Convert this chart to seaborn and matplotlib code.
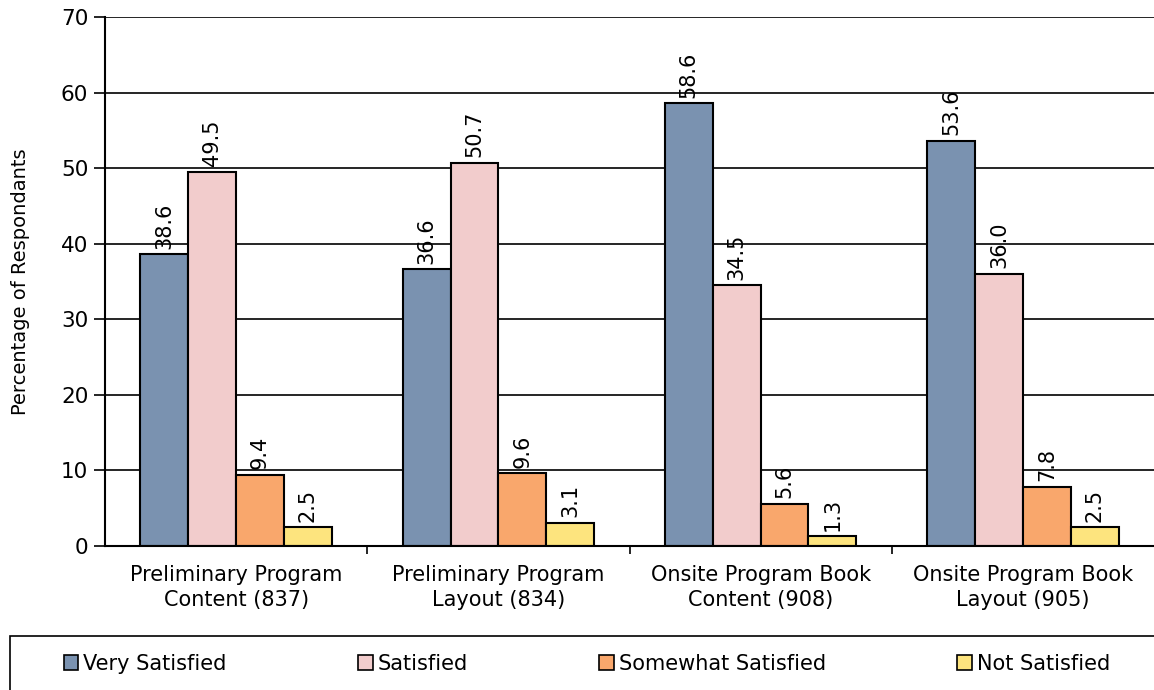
import matplotlib
matplotlib.use("Agg")
import matplotlib.pyplot as plt
import seaborn as sns
import pandas as pd
import numpy as np
from matplotlib.patches import Patch, Rectangle

categories = ["Preliminary Program\nContent (837)", "Preliminary Program\nLayout (834)",
              "Onsite Program Book\nContent (908)", "Onsite Program Book\nLayout (905)"]
series = ["Very Satisfied", "Satisfied", "Somewhat Satisfied", "Not Satisfied"]
very_satisfied = [38.6, 36.6, 58.6, 53.6]
satisfied = [49.5, 50.7, 34.5, 36.0]
somewhat_satisfied = [9.4, 9.6, 5.6, 7.8]
not_satisfied = [2.5, 3.1, 1.3, 2.5]
colors = ["#7a92b0", "#f2cccc", "#f9a76c", "#fde47e"]

rows = []
for s, vals in zip(series, [very_satisfied, satisfied, somewhat_satisfied, not_satisfied]):
    for c, v in zip(categories, vals):
        rows.append({"Category": c, "Rating": s, "Value": v})
df = pd.DataFrame(rows)

sns.set_theme(style="white")
plt.rcParams['font.family'] = ['DejaVu Sans']
plt.rcParams.update({"text.color": "black", "axes.labelcolor": "black",
                     "xtick.color": "black", "ytick.color": "black"})

fig = plt.figure(figsize=(11.54, 6.9), dpi=100)
ax = fig.add_axes([0.091, 0.2087, 0.909, 0.7667])

sns.barplot(data=df, x="Category", y="Value", hue="Rating", order=categories,
            hue_order=series, palette=colors, width=0.73, gap=0, ax=ax,
            edgecolor="black", linewidth=1.5, legend=False, saturation=1)

for cont in ax.containers:
    ax.bar_label(cont, fmt="%.1f", rotation=90, padding=4, fontsize=15, color="black")

ax.set_ylim(0, 70)
ax.set_xlim(-0.5, 3.5)
ax.set_yticks(np.arange(0, 71, 10))
ax.yaxis.grid(True, color="black", linewidth=1.2)
ax.set_axisbelow(True)
ax.tick_params(axis="y", labelsize=15.5, length=8, width=1.2, direction="out", left=True, pad=4)
ax.set_ylabel("Percentage of Respondants", fontsize=14, labelpad=22)
ax.set_xlabel("")

ax.set_xticks([0.5, 1.5, 2.5])
ax.set_xticklabels([])
ax.tick_params(axis="x", which="major", length=6, width=1.2, bottom=True, direction="out")
ax.set_xticks([0, 1, 2, 3], minor=True)
ax.set_xticklabels(categories, minor=True, fontsize=15, linespacing=1.3)
ax.tick_params(axis="x", which="minor", length=0, pad=14)

for side in ["top", "right"]:
    ax.spines[side].set_visible(False)
for side in ["left", "bottom"]:
    ax.spines[side].set_color("black")
    ax.spines[side].set_linewidth(1.5)

# legend frame
fig.patches.append(Rectangle((10 / 1154, -0.02), 1.1, 0.098, transform=fig.transFigure,
                             facecolor="white", edgecolor="black", linewidth=1.2))
handles = [Patch(facecolor=c, edgecolor="black", linewidth=1.2) for c in colors]
leg = fig.legend(handles, series, loc="center", bbox_to_anchor=(587 / 1154, 0.038),
                 ncol=4, fontsize=15, frameon=False,
                 handlelength=0.7, handleheight=0.7, handletextpad=0.25,
                 columnspacing=6.3)

fig.savefig("out.png", dpi=100)
